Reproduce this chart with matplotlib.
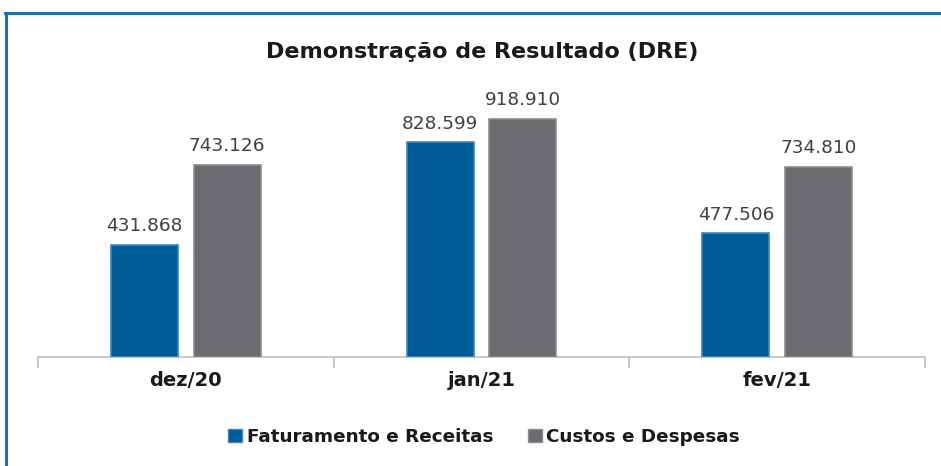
import matplotlib
matplotlib.use("Agg")
import matplotlib.pyplot as plt
from matplotlib.lines import Line2D
import numpy as np

categories = ["dez/20", "jan/21", "fev/21"]
faturamento = [431868, 828599, 477506]
custos = [743126, 918910, 734810]
series_names = ["Faturamento e Receitas", "Custos e Despesas"]
colors = ["#005C97", "#6B6C70"]
edge_colors = ["#3E86BE", "#8A8B8E"]

def fmt(v):
    return f"{v:,}".replace(",", ".")

plt.rcParams['font.family'] = ['DejaVu Sans']
W, H = 941, 466
fig = plt.figure(figsize=(W / 100, H / 100), dpi=100)
ax = fig.add_axes([38 / W, (H - 357) / H, (925 - 38) / W, (357 - 98) / H])

x = np.arange(len(categories))
width = 0.227
offset = 0.14
for vals, off, c, ec in [(faturamento, -offset, colors[0], edge_colors[0]),
                         (custos, offset, colors[1], edge_colors[1])]:
    bars = ax.bar(x + off, vals, width, color=c, edgecolor=ec, linewidth=1.2, zorder=3)
    for b, v in zip(bars, vals):
        ax.annotate(fmt(v), (b.get_x() + b.get_width() / 2, v), xytext=(0, 7),
                    textcoords="offset points", ha="center", va="bottom",
                    fontsize=13.3, color="#404040")

ax.set_xlim(-0.5, len(categories) - 0.5)
ax.set_ylim(0, 1000000)
ax.set_yticks([])
for s in ["top", "right", "left"]:
    ax.spines[s].set_visible(False)
ax.spines["bottom"].set_color("#BFBFBF")
ax.spines["bottom"].set_linewidth(1.2)
ax.set_xticks(np.arange(len(categories) + 1) - 0.5, minor=False)
ax.set_xticklabels([])
ax.tick_params(axis="x", which="major", length=8, color="#BFBFBF", width=1.2)
ax.set_xticks(x, minor=True)
ax.set_xticklabels(categories, minor=True, fontsize=14, fontweight="bold", color="#1a1a1a")
ax.tick_params(axis="x", which="minor", length=0, pad=10)

fig.text(482 / W, 1 - 52 / H, "Demonstração de Resultado (DRE)", ha="center", va="center",
         fontsize=16, fontweight="bold", color="#1a1a1a")

handles = [plt.Rectangle((0, 0), 1, 1, facecolor=colors[0], edgecolor=edge_colors[0]),
           plt.Rectangle((0, 0), 1, 1, facecolor=colors[1], edgecolor=edge_colors[1])]
leg = fig.legend(handles, series_names, loc="center", bbox_to_anchor=(484 / W, 1 - 437 / H),
                 ncol=2, frameon=False, handlelength=0.75, handleheight=0.75,
                 handletextpad=0.25, columnspacing=1.9,
                 prop={"size": 13.2, "weight": "bold"})
for t in leg.get_texts():
    t.set_color("#1a1a1a")

border = "#1F6FAE"
fig.add_artist(Line2D([5 / W, 1], [1 - 13 / H, 1 - 13 / H], color=border, linewidth=2.2,
                      transform=fig.transFigure))
fig.add_artist(Line2D([6 / W, 6 / W], [0, 1 - 13 / H], color=border, linewidth=2.2,
                      transform=fig.transFigure))

fig.savefig("out.png", dpi=100)
